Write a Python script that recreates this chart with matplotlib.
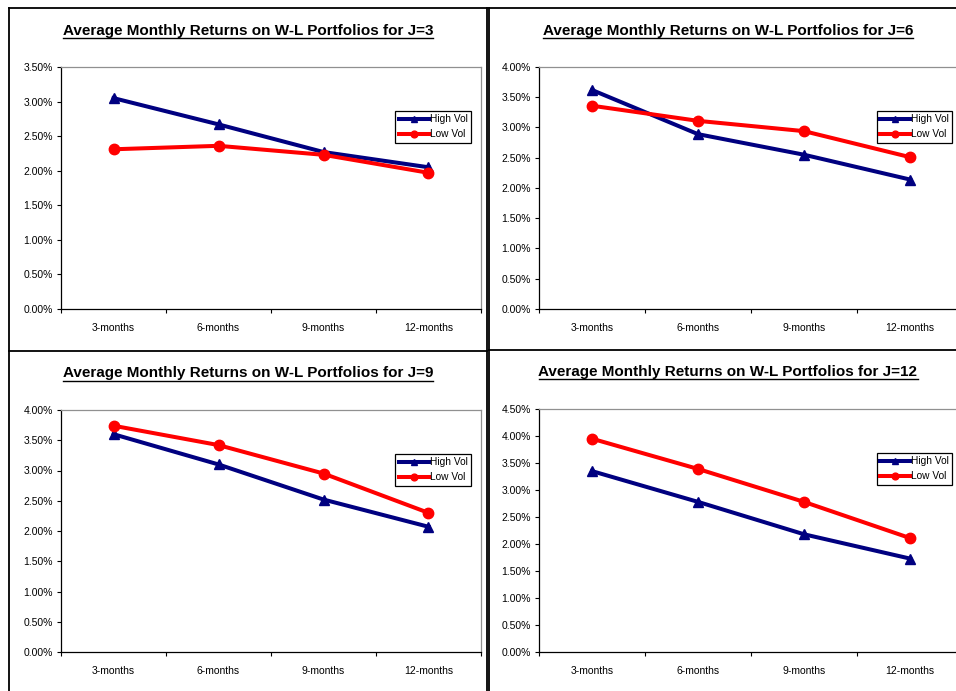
import matplotlib
matplotlib.use('Agg')
import matplotlib.pyplot as plt
from matplotlib.lines import Line2D
from matplotlib.ticker import FixedLocator, NullFormatter
import numpy as np

plt.rcParams['font.family'] = ['Liberation Sans', 'DejaVu Sans']

# --- data ---
categories = ['3-months', '6-months', '9-months', '12-months']
j_values = [3, 6, 9, 12]
high_vol_j3 = [3.05, 2.67, 2.27, 2.05]
low_vol_j3 = [2.31, 2.36, 2.23, 1.97]
high_vol_j6 = [3.62, 2.89, 2.55, 2.14]
low_vol_j6 = [3.36, 3.11, 2.94, 2.51]
high_vol_j9 = [3.60, 3.10, 2.52, 2.07]
low_vol_j9 = [3.74, 3.42, 2.95, 2.30]
high_vol_j12 = [3.35, 2.78, 2.18, 1.73]
low_vol_j12 = [3.95, 3.39, 2.78, 2.11]
y_max = [3.5, 4.0, 4.0, 4.5]

highs = [high_vol_j3, high_vol_j6, high_vol_j9, high_vol_j12]
lows = [low_vol_j3, low_vol_j6, low_vol_j9, low_vol_j12]

W, H = 956, 691
fig = plt.figure(figsize=(W / 100, H / 100), dpi=100)

def px_rect(x0, y0, x1, y1):
    # pixel box (top-left origin) -> figure fraction [l, b, w, h]
    return [x0 / W, 1 - y1 / H, (x1 - x0) / W, (y1 - y0) / H]

# axes boxes in pixels (left, top, right, bottom)
axes_px = [(61, 67, 481, 309), (539, 67, 963, 309),
           (61, 410, 481, 652), (539, 409, 963, 652)]
title_pos = [(248, 30.5), (728, 30.5), (248, 373), (728, 371.5)]

NAVY = '#000080'
RED = '#FF0000'

titles = []
for n in range(4):
    x0, y0, x1, y1 = axes_px[n]
    ax = fig.add_axes(px_rect(x0, y0, x1, y1))
    x = np.arange(len(categories))
    ax.plot(x, highs[n], color=NAVY, lw=2.9, marker='^', ms=7, label='High Vol',
            clip_on=False, zorder=3)
    ax.plot(x, lows[n], color=RED, lw=2.9, marker='o', ms=7.5, label='Low Vol',
            clip_on=False, zorder=4)

    ax.set_xlim(-0.5, len(categories) - 0.5)
    ax.set_ylim(0, y_max[n])
    yt = np.arange(0, y_max[n] + 0.01, 0.5)
    ax.set_yticks(yt)
    ax.set_yticklabels([f'{v:.2f}%' for v in yt])
    ax.set_xticks(x)
    ax.set_xticklabels(categories)
    ax.xaxis.set_minor_locator(FixedLocator(np.arange(-0.5, len(categories), 1.0)))
    ax.xaxis.set_minor_formatter(NullFormatter())
    ax.tick_params(axis='x', which='major', length=0, pad=10, labelsize=7.5)
    ax.tick_params(axis='x', which='minor', length=3, width=0.8, direction='out')
    ax.tick_params(axis='y', length=3, width=0.8, pad=3, labelsize=7.5)

    for s in ['left', 'bottom']:
        ax.spines[s].set_color('black')
        ax.spines[s].set_linewidth(0.9)
    for s in ['top', 'right']:
        ax.spines[s].set_color('#909090')
        ax.spines[s].set_linewidth(0.9)

    leg = ax.legend(loc='upper left', bbox_to_anchor=(0.796, 0.82), fontsize=7.3,
                    numpoints=1, markerscale=0.65, handlelength=3.0, handletextpad=0.05,
                    borderpad=0.35, labelspacing=0.5, borderaxespad=0,
                    fancybox=False, framealpha=1, edgecolor='black')
    leg.get_frame().set_linewidth(0.9)

    tx, ty = title_pos[n]
    t = fig.text(tx / W, 1 - ty / H,
                 f'Average Monthly Returns on W-L Portfolios for J={j_values[n]}',
                 ha='center', va='center', fontsize=11, fontweight='bold')
    titles.append(t)

# panel borders
border_lines = [
    ((9, 8), (487, 8)), ((9, 8), (9, 691)), ((487, 8), (487, 691)),
    ((9, 350.5), (487, 350.5)),
    ((489, 8), (956, 8)), ((489, 8), (489, 691)), ((489, 350), (956, 350)),
]
for (xa, ya), (xb, yb) in border_lines:
    fig.add_artist(Line2D([xa / W, xb / W], [1 - ya / H, 1 - yb / H],
                          color='black', lw=1.3, transform=fig.transFigure))

# underline titles
fig.canvas.draw()
renderer = fig.canvas.get_renderer()
for t in titles:
    bb = t.get_window_extent(renderer)
    yline = (bb.y0 - 0.5) / H
    fig.add_artist(Line2D([bb.x0 / W, bb.x1 / W], [yline, yline], color='black',
                          lw=1.0, transform=fig.transFigure))

fig.savefig('out.png', dpi=100)
